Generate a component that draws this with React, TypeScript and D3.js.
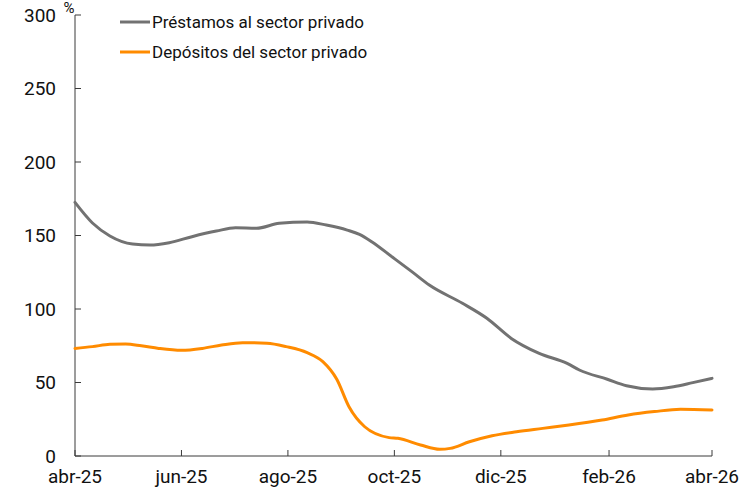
import React from "react";
import * as d3 from "d3";

// Préstamos al sector privado (%)
const prestamosFechas = [
  "2025-04-01", "2025-04-11", "2025-04-21", "2025-05-04", "2025-05-14", "2025-05-25",
  "2025-06-07", "2025-06-21", "2025-07-02", "2025-07-14", "2025-07-27", "2025-08-12",
  "2025-08-23", "2025-09-04", "2025-09-11", "2025-09-18", "2025-09-30", "2025-10-11",
  "2025-10-21", "2025-11-09", "2025-11-23", "2025-12-07", "2025-12-23", "2026-01-08",
  "2026-01-15", "2026-01-31", "2026-02-11", "2026-02-26", "2026-03-10", "2026-03-21",
  "2026-04-01",
];
const prestamosValores = [
  172.5, 158.5, 149.7, 144.2, 143.5, 145.1,
  149.2, 153.0, 155.3, 154.9, 158.3, 159.2,
  157.1, 153.7, 150.8, 145.8, 135.2, 125.4,
  116.3, 103.9, 93.7, 80.0, 69.8, 63.0,
  58.5, 52.2, 47.8, 45.6, 47.1, 49.9,
  52.8,
];

// Depósitos del sector privado (%)
const depositosFechas = [
  "2025-04-01", "2025-04-11", "2025-04-21", "2025-04-30", "2025-05-09", "2025-05-19",
  "2025-06-01", "2025-06-13", "2025-06-24", "2025-07-06", "2025-07-20", "2025-07-31",
  "2025-08-12", "2025-08-21", "2025-08-29", "2025-09-05", "2025-09-14", "2025-09-28",
  "2025-10-03", "2025-10-16", "2025-10-27", "2025-11-02", "2025-11-13", "2025-11-26",
  "2025-12-10", "2025-12-25", "2026-01-09", "2026-01-28", "2026-02-12", "2026-02-27",
  "2026-03-14", "2026-04-01",
];
const depositosValores = [
  73.2, 74.4, 76.0, 76.2, 75.0, 73.2,
  71.9, 73.2, 75.5, 77.1, 76.7, 74.4,
  70.3, 64.2, 52.2, 33.5, 19.9, 12.5,
  12.0, 7.5, 4.6, 5.2, 9.7, 13.8,
  16.5, 18.8, 21.1, 24.5, 27.9, 30.2,
  31.8, 31.3,
];

const xTickFechas = ["2025-04-01", "2025-06-01", "2025-08-01", "2025-10-01", "2025-12-01", "2026-02-01", "2026-04-01"];
const xTickLabels = ["abr-25", "jun-25", "ago-25", "oct-25", "dic-25", "feb-26", "abr-26"];
const yTicks = [0, 50, 100, 150, 200, 250, 300];

const series = [
  { name: "Préstamos al sector privado", color: "#727272", fechas: prestamosFechas, valores: prestamosValores },
  { name: "Depósitos del sector privado", color: "#FF8B00", fechas: depositosFechas, valores: depositosValores },
];

const W = 754;
const H = 488;
const left = 75;
const right = 712;
const top = 15;
const bottom = 456;
const font = "Roboto, 'Noto Sans', sans-serif";
const axisColor = "#3a3a3a";

const parse = d3.timeParse("%Y-%m-%d");

const App = () => {
  const x = d3.scaleTime()
    .domain([parse("2025-04-01") as Date, parse("2026-04-01") as Date])
    .range([left, right]);
  const y = d3.scaleLinear().domain([0, 300]).range([bottom, top]);

  const line = d3.line<[Date, number]>()
    .x(d => x(d[0]))
    .y(d => y(d[1]))
    .curve(d3.curveMonotoneX);

  return (
    <svg width={W} height={H} style={{ position: "absolute", left: 0, top: 0, fontFamily: font }}>
      {/* y axis */}
      <line x1={left} x2={left} y1={top} y2={bottom} stroke={axisColor} strokeWidth={1} />
      {yTicks.map(t => (
        <g key={t}>
          <line x1={left} x2={left + 6} y1={y(t)} y2={y(t)} stroke={axisColor} strokeWidth={1} />
          <text x={56} y={y(t)} dy="0.36em" textAnchor="end" fontSize={19} fill="#111">{t}</text>
        </g>
      ))}
      <text x={69} y={13} textAnchor="middle" fontSize={15} fill="#111">%</text>

      {/* x axis */}
      <line x1={left} x2={right} y1={bottom} y2={bottom} stroke={axisColor} strokeWidth={1} />
      {xTickFechas.map((f, i) => {
        const xx = x(parse(f) as Date);
        return (
          <g key={f}>
            <line x1={xx} x2={xx} y1={bottom} y2={bottom - 6} stroke={axisColor} strokeWidth={1} />
            <text x={xx} y={483} textAnchor="middle" fontSize={19} fill="#111">{xTickLabels[i]}</text>
          </g>
        );
      })}

      {/* series */}
      {series.map(s => (
        <path
          key={s.name}
          d={line(s.fechas.map((f, i) => [parse(f) as Date, s.valores[i]])) || ""}
          fill="none"
          stroke={s.color}
          strokeWidth={3}
          strokeLinejoin="round"
          strokeLinecap="round"
        />
      ))}

      {/* legend */}
      {series.map((s, i) => (
        <g key={s.name} transform={`translate(120, ${22 + i * 30})`}>
          <line x1={0} x2={30} y1={0} y2={0} stroke={s.color} strokeWidth={3} />
          <text x={32} y={0} dy="0.36em" fontSize={17} fill="#111">{s.name}</text>
        </g>
      ))}
    </svg>
  );
};

export default App;
